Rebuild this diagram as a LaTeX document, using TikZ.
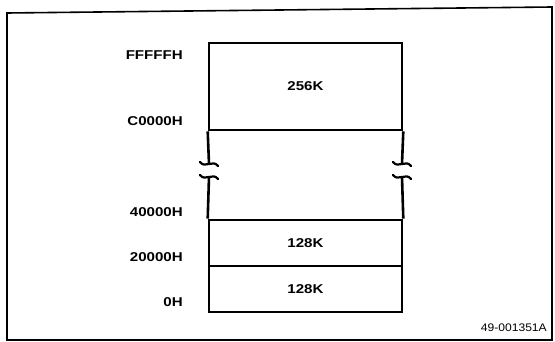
\documentclass[tikz,border=0pt]{standalone}
\usepackage{fontspec}
\setmainfont{Liberation Sans}
\begin{document}
\begin{tikzpicture}[x=1pt,y=-1pt,
  lbl/.style={font=\fontsize{12.8}{14}\selectfont\bfseries\addfontfeature{FakeStretch=1.18}, inner sep=0pt, anchor=east},
  seg/.style={draw, line width=2.6pt, minimum width=193pt, inner sep=0pt,
    font=\fontsize{12.8}{14}\selectfont\bfseries\addfontfeature{FakeStretch=1.18}},
  memline/.style={line width=2.6pt},
  brk/.style={line width=2.2pt, line cap=round},
  framestyle/.style={line width=1.6pt}]
\useasboundingbox (0,0) rectangle (555,342);
% outer frame
\draw[framestyle] (7,340) -- (7,13) -- (552,7) -- (552,340) -- cycle;
% memory sections
\node[seg, minimum height=87pt] (s256) at (305.5,86.5) {256K};
\node[seg, minimum height=46pt] (s128a) at (305.5,243) {128K};
\node[seg, minimum height=46pt] (s128b) at (305.5,289) {128K};
% break coordinates
\coordinate (lu) at (209,164);
\coordinate (ll) at (209,177);
\coordinate (ru) at (402,164);
\coordinate (rl) at (402,177);
\draw[memline] (s256.south west) -- (lu);
\draw[memline] (ll) -- (s128a.north west);
\draw[memline] (s256.south east) -- (ru);
\draw[memline] (rl) -- (s128a.north east);
\foreach \c in {lu,ll,ru,rl}{
  \draw[brk] ([xshift=-9pt,yshift=2pt]\c) .. controls ([xshift=-4pt,yshift=-5pt]\c) and ([xshift=4pt,yshift=5pt]\c) .. ([xshift=9pt,yshift=-2pt]\c);
}
% address labels
\node[lbl] (a1) at (183,55) {FFFFFH};
\node[lbl] (a2) at (183,121) {C0000H};
\node[lbl] (a3) at (183,212) {40000H};
\node[lbl] (a4) at (183,257) {20000H};
\node[lbl] (a5) at (183,302) {0H};
% figure number
\node[font=\fontsize{11}{13}\selectfont\addfontfeature{FakeStretch=1.1}, anchor=east, inner sep=0pt] (fig) at (547,328) {49-001351A};
\end{tikzpicture}
\end{document}
